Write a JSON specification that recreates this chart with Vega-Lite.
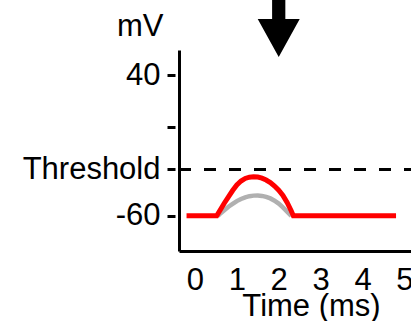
{
  "$schema": "https://vega.github.io/schema/vega-lite/v6.json",
  "autosize": {"type": "none"},
  "padding": {"left": 179, "top": 50, "right": 0, "bottom": 70},
  "width": 232,
  "height": 201,
  "background": "white",
  "config": {
    "font": "Liberation Sans",
    "view": {"stroke": null},
    "axis": {"grid": false, "labelColor": "black", "titleColor": "black", "titleFontWeight": "normal", "labelFontSize": 31, "titleFontSize": 31, "domainColor": "black", "domainWidth": 3, "tickColor": "black", "labelFlush": false, "labelOverlap": false}
  },
  "encoding": {
    "x": {"field": "t", "type": "quantitative", "scale": {"domain": [-0.38, 5.157], "nice": false, "zero": false},
      "axis": {"title": "Time (ms)", "values": [0, 1, 2, 3, 4, 5], "ticks": false, "tickSize": 0, "labelPadding": 14, "titleX": 132, "titleY": 64, "titleAlign": "center", "titleBaseline": "alphabetic"}},
    "y": {"field": "v", "type": "quantitative", "scale": {"domain": [-85, 58], "nice": false, "zero": false},
      "axis": {"title": "mV", "values": [40, 3, -27, -60], "labelExpr": "datum.value == 40 ? '40' : datum.value == -60 ? '-60' : datum.value == -27 ? 'Threshold' : ''", "tickSize": 12, "tickWidth": 3, "tickDash": [0, 4, 8, 50], "labelPadding": 7, "titleAngle": 0, "titleAlign": "right", "titleBaseline": "alphabetic", "titleX": -16, "titleY": -15}}
  },
  "layer": [
    {
      "data": {"values": [
        {"t": 0.55, "v": -60}, {"t": 0.6, "v": -58.5}, {"t": 0.7, "v": -56}, {"t": 0.8, "v": -53.5}, {"t": 0.9, "v": -51.5}, {"t": 1.0, "v": -49.5}, {"t": 1.1, "v": -48}, {"t": 1.2, "v": -46.8}, {"t": 1.3, "v": -46}, {"t": 1.4, "v": -45.6}, {"t": 1.5, "v": -45.5}, {"t": 1.6, "v": -45.8}, {"t": 1.7, "v": -46.5}, {"t": 1.8, "v": -47.6}, {"t": 1.9, "v": -49.2}, {"t": 2.0, "v": -51.3}, {"t": 2.1, "v": -54}, {"t": 2.2, "v": -57}, {"t": 2.3, "v": -60}
      ]},
      "mark": {"type": "line", "color": "#b0b0b0", "strokeWidth": 4.5}
    },
    {
      "data": {"values": [
        {"t": -0.2, "v": -60}, {"t": 0.52, "v": -60}, {"t": 0.6, "v": -56}, {"t": 0.7, "v": -51}, {"t": 0.8, "v": -46.5}, {"t": 0.9, "v": -42}, {"t": 1.0, "v": -38}, {"t": 1.1, "v": -35.2}, {"t": 1.2, "v": -33.4}, {"t": 1.3, "v": -32.5}, {"t": 1.4, "v": -32.2}, {"t": 1.5, "v": -32.4}, {"t": 1.6, "v": -33.2}, {"t": 1.7, "v": -34.5}, {"t": 1.8, "v": -36.3}, {"t": 1.9, "v": -38.8}, {"t": 2.0, "v": -41.8}, {"t": 2.1, "v": -45.5}, {"t": 2.2, "v": -50.5}, {"t": 2.3, "v": -56.5}, {"t": 2.35, "v": -60}, {"t": 4.8, "v": -60}
      ]},
      "mark": {"type": "line", "color": "#ff0000", "strokeWidth": 5}
    },
    {
      "data": {"values": [{"t": -0.38, "t2": 5.157, "v": -27}]},
      "mark": {"type": "rule", "color": "black", "strokeWidth": 3, "strokeDash": [12, 13]},
      "encoding": {"x2": {"field": "t2"}}
    },
    {
      "data": {"values": [{"t": 2, "v": 53}]},
      "mark": {"type": "point", "filled": true, "color": "black", "opacity": 1, "strokeWidth": 0, "size": 1764,
        "shape": "M0,0L-1,-1.81L-0.315,-1.81L-0.315,-3.2L0.315,-3.2L0.315,-1.81L1,-1.81Z"}
    }
  ]
}
